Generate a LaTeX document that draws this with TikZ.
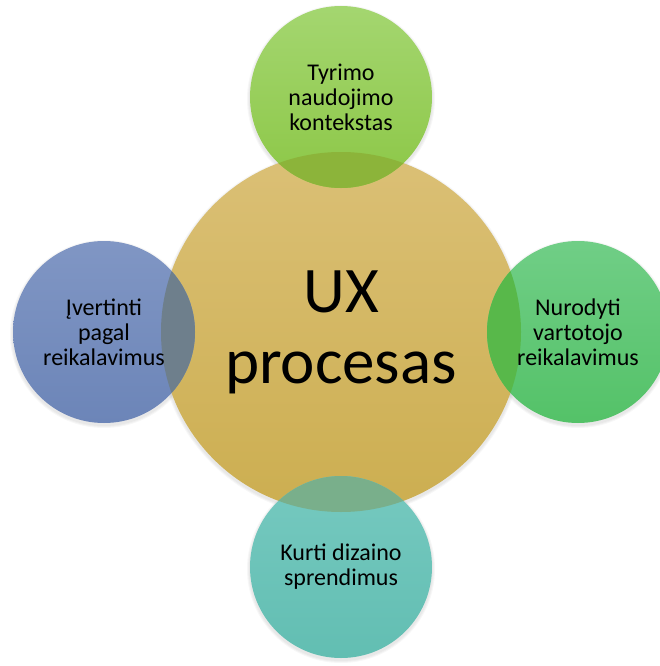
\documentclass[tikz,border=0pt]{standalone}
\usepackage{fontspec}
\setmainfont{Carlito}
\definecolor{coreTop}{RGB}{219,192,118}
\definecolor{coreBot}{RGB}{204,174,80}
\definecolor{grnTop}{RGB}{164,214,112}
\definecolor{grnBot}{RGB}{140,199,70}
\definecolor{bluTop}{RGB}{128,150,196}
\definecolor{bluBot}{RGB}{108,133,184}
\definecolor{lgrTop}{RGB}{112,206,134}
\definecolor{lgrBot}{RGB}{84,194,104}
\definecolor{tealTop}{RGB}{118,201,192}
\definecolor{tealBot}{RGB}{98,190,178}
\definecolor{ovTop}{RGB}{140,180,58}
\definecolor{ovLeft}{RGB}{110,127,140}
\definecolor{ovRight}{RGB}{88,184,74}
\definecolor{ovBot}{RGB}{121,175,139}
\begin{document}
\begin{tikzpicture}[x=1pt,y=-1pt,
  disc/.style={circle, inner sep=0pt, minimum size=#1},
  bigdisc/.style={disc=360pt, top color=coreTop, bottom color=coreBot},
  smalldisc/.style={disc=182pt},
  smalltext/.style={align=center, font=\fontsize{24}{25}\selectfont},
  bigtext/.style={align=center, font=\fontsize{65}{71}\selectfont}]
\useasboundingbox (0,0) rectangle (660,666);

% soft shadows under every disc
\foreach \cx/\cy/\r in {341/332/180, 341/97/91, 104/332/91, 578/332/91, 341/567/91}{
  \foreach \d in {1,2,3}{
    \fill[black, opacity=0.03] (\cx,\cy+2) circle ({\r+\d});
  }
}

% central disc
\node[bigdisc] (core) at (341,332) {};

% four outer discs
\node[smalldisc, top color=grnTop, bottom color=grnBot] (research) at (341,97) {};
\node[smalldisc, top color=bluTop, bottom color=bluBot] (evaluate) at (104,332) {};
\node[smalldisc, top color=lgrTop, bottom color=lgrBot] (specify) at (578,332) {};
\node[smalldisc, top color=tealTop, bottom color=tealBot] (design) at (341,567) {};

% darker lens where each outer disc covers the centre
\begin{scope}
  \clip (core.center) circle (180);
  \fill[ovTop] (research.center) circle (91);
  \fill[ovLeft] (evaluate.center) circle (91);
  \fill[ovRight] (specify.center) circle (91);
  \fill[ovBot] (design.center) circle (91);
\end{scope}

% labels
\node[bigtext] (coreT) at (core.center) {UX\\procesas};
\node[smalltext] (researchT) at (research.center) {Tyrimo\\naudojimo\\kontekstas};
\node[smalltext] (evaluateT) at (evaluate.center) {Įvertinti\\pagal\\reikalavimus};
\node[smalltext] (specifyT) at (specify.center) {Nurodyti\\vartotojo\\reikalavimus};
\node[smalltext] (designT) at (design.center) {Kurti dizaino\\sprendimus};
\end{tikzpicture}
\end{document}
